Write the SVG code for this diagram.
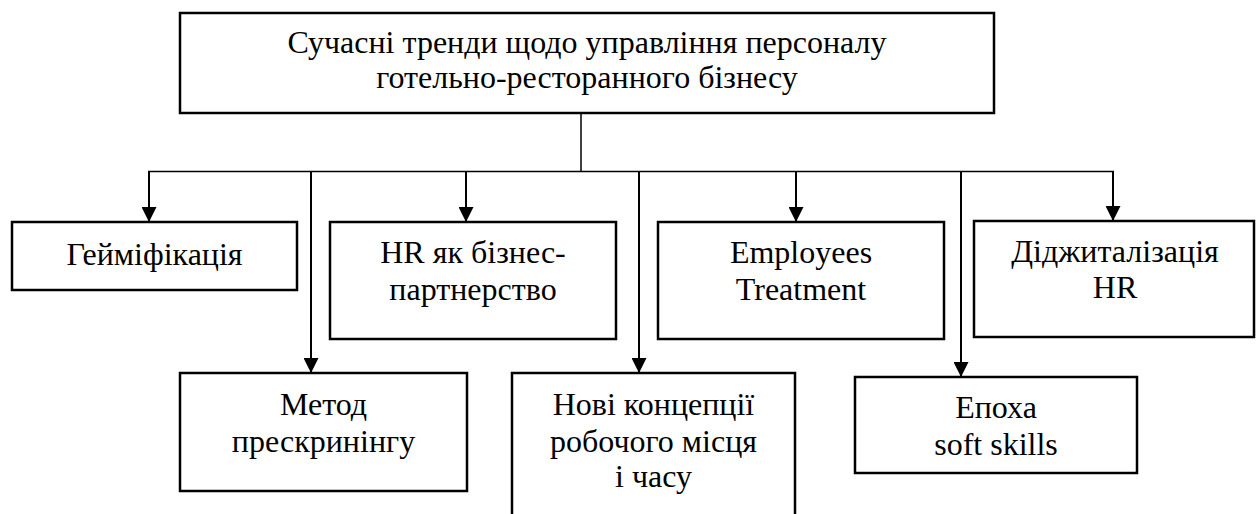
<svg xmlns="http://www.w3.org/2000/svg" width="1256" height="514" viewBox="0 0 1256 514">
<style>
  .box { fill: #fff; stroke: #000; stroke-width: 2.5; }
  .t { font-family: "Liberation Serif", "Times New Roman", serif; font-size: 32px; fill: #000; text-anchor: middle; }
  .c { fill: none; stroke: #000; stroke-width: 1.5; }
  .a { fill: none; stroke: #000; stroke-width: 2; marker-end: url(#arr); }
</style>
<defs>
  <marker id="arr" markerUnits="userSpaceOnUse" markerWidth="15" markerHeight="15" viewBox="0 0 15 15" refX="15" refY="7.5" orient="auto">
    <path d="M0,0 L15,7.5 L0,15 z" fill="#000"/>
  </marker>
</defs>
<g id="connectors">
  <path class="c" d="M581,113 V171.5"/>
  <path class="c" d="M148,171.5 H1114"/>
  <path class="a" d="M149,171.5 V222"/>
  <path class="a" d="M466,171.5 V222"/>
  <path class="a" d="M796,171.5 V222"/>
  <path class="a" d="M1113,171.5 V221"/>
  <path class="a" d="M311,171.5 V373"/>
  <path class="a" d="M639,171.5 V373"/>
  <path class="a" d="M961,171.5 V377"/>
</g>
<g id="root">
  <rect class="box" x="180" y="13" width="814" height="100"/>
  <text class="t" x="587" y="53">Сучасні тренди щодо управління персоналу</text>
  <text class="t" x="587" y="88">готельно-ресторанного бізнесу</text>
</g>
<g id="gamification">
  <rect class="box" x="12" y="222" width="285" height="68"/>
  <text class="t" x="154.5" y="265">Гейміфікація</text>
</g>
<g id="hr-partner">
  <rect class="box" x="330" y="222" width="286" height="117"/>
  <text class="t" x="473" y="263">HR як бізнес-</text>
  <text class="t" x="473" y="300">партнерство</text>
</g>
<g id="employees">
  <rect class="box" x="658" y="222" width="286" height="117"/>
  <text class="t" x="801" y="263">Employees</text>
  <text class="t" x="801" y="300">Treatment</text>
</g>
<g id="digital">
  <rect class="box" x="974" y="221" width="280" height="116"/>
  <text class="t" x="1115" y="262">Діджиталізація</text>
  <text class="t" x="1115" y="298">HR</text>
</g>
<g id="prescreening">
  <rect class="box" x="180" y="373" width="287" height="118"/>
  <text class="t" x="323.5" y="415">Метод</text>
  <text class="t" x="323.5" y="452">прескринінгу</text>
</g>
<g id="workplace">
  <rect class="box" x="512" y="373" width="283" height="150"/>
  <text class="t" x="653.5" y="415">Нові концепції</text>
  <text class="t" x="653.5" y="452">робочого місця</text>
  <text class="t" x="653.5" y="487">і часу</text>
</g>
<g id="softskills">
  <rect class="box" x="855" y="377" width="282" height="96"/>
  <text class="t" x="996" y="418">Епоха</text>
  <text class="t" x="996" y="455">soft skills</text>
</g>
</svg>
